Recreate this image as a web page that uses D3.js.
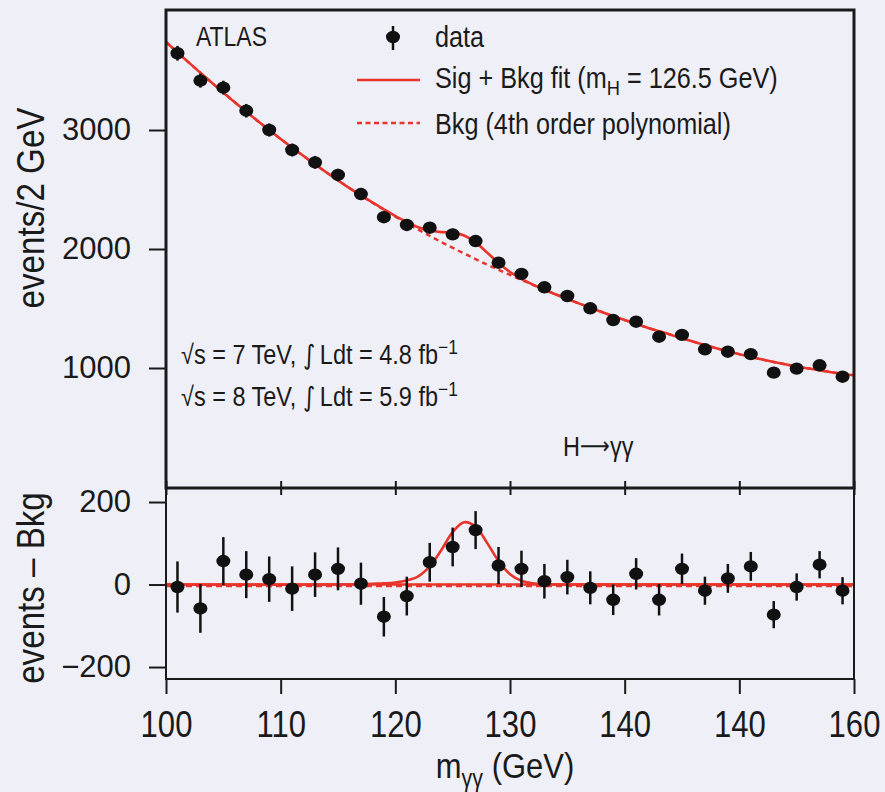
<!DOCTYPE html>
<html><head><meta charset="utf-8">
<script src="https://cdn.jsdelivr.net/npm/d3@7"></script>
<style>
body{margin:0;background:#eff0f7;}
svg{display:block;}
text{font-family:"Liberation Sans",Arial,sans-serif;}
</style></head><body>
<svg id="c" width="885" height="792"></svg>
<script>
// ---- data ----
const massBins = [101,103,105,107,109,111,113,115,117,119,121,123,125,127,129,131,133,135,137,139,141,143,145,147,149,151,153,155,157,159];
const events = [3645,3415,3356,3162,3000,2832,2728,2622,2462,2267,2202,2179,2123,2067,1885,1790,1678,1605,1502,1403,1389,1263,1278,1157,1137,1117,961,995,1023,927];
const residuals = [-6,-58,57,24,13,-10,24,38,2,-78,-28,54,91,132,46,38,8,18,-8,-37,26,-37,38,-15,15,44,-73,-6,48,-15];
const errors = [62,59,58,57,55,54,54,52,51,48,47,47,47,46,45,44,42,42,40,37,38,38,37,34,35,35,33,33,33,33];
const bkgX = [100,102,104,106,108,110,112,114,116,118,120,122,124,126,128,130,132,134,136,138,140,142,144,146,148,150,152,154,156,158,160];
const bkgY = [3740,3566,3397,3233,3076,2925,2781,2643,2512,2389,2272,2163,2059,1962,1869,1782,1698,1618,1543,1471,1403,1339,1280,1221,1166,1116,1071,1031,997,965,939];
const sigX = [100,116,118,119,120,121,122,123,124,125,126,127,128,129,130,131,132,133,134,136,160];
const sigY = [0,0,2,3,5,10,20,44,83,127,151,140,101,57,25,9,3,1,0,0,0];
const xTicks = [100,110,120,130,140,150,160];
const xTickLabels = ["100","110","120","130","140","140","160"];
const yTopTicks = [1000,2000,3000];
const yBotTicks = [-200,0,200];

const red = "#e8342b", ink = "#1a1a1a";
const svg = d3.select("#c");
const L = 166, R = 854, T1 = 10, B1 = 488, B2 = 679;
const x = d3.scaleLinear().domain([100,160]).range([L,R]);
const yT = d3.scaleLinear().domain([0,4000]).range([487,11]);
const yB = d3.scaleLinear().domain([-229,234]).range([B2,B1]);

// condensed text helper (horizontal squeeze of Liberation Sans)
function ctext(parent, px, py, size, sx, rot) {
  return parent.append("text")
    .attr("transform", `translate(${px},${py})${rot?` rotate(${rot})`:""} scale(${sx},1)`)
    .attr("font-size", size).attr("fill", ink);
}

const bkgAt = v => { const i = d3.bisectLeft(bkgX, v); if (bkgX[i] === v) return bkgY[i]; const t=(v-bkgX[i-1])/(bkgX[i]-bkgX[i-1]); return bkgY[i-1]+t*(bkgY[i]-bkgY[i-1]); };
const sigAt = v => { const i = d3.bisectLeft(sigX, v); if (sigX[i] === v) return sigY[i]; if (i<=0||i>=sigX.length) return 0; const t=(v-sigX[i-1])/(sigX[i]-sigX[i-1]); return sigY[i-1]+t*(sigY[i]-sigY[i-1]); };
const fitX = Array.from(new Set([...bkgX, ...sigX])).sort((a,b)=>a-b);
const fitPts = fitX.map(v => [v, bkgAt(v) + sigAt(v)]);

svg.append("clipPath").attr("id","cpT").append("rect").attr("x",L).attr("y",T1).attr("width",R-L).attr("height",B1-T1);
svg.append("clipPath").attr("id","cpB").append("rect").attr("x",L).attr("y",B1).attr("width",R-L).attr("height",B2-B1);

// ---- top panel ----
const gT = svg.append("g");
const lineT = d3.line().x(d=>x(d[0])).y(d=>yT(d[1])).curve(d3.curveCatmullRom);
gT.append("path").attr("clip-path","url(#cpT)").attr("d", lineT(bkgX.map((v,i)=>[v,bkgY[i]])))
  .attr("fill","none").attr("stroke",red).attr("stroke-width",2.4).attr("stroke-dasharray","5,4");
gT.append("path").attr("clip-path","url(#cpT)").attr("d", lineT(fitPts))
  .attr("fill","none").attr("stroke",red).attr("stroke-width",2.6);
const ptsT = gT.selectAll("g.pt").data(massBins).join("g");
ptsT.append("line").attr("x1",d=>x(d)).attr("x2",d=>x(d))
  .attr("y1",(d,i)=>yT(events[i]-errors[i])).attr("y2",(d,i)=>yT(events[i]+errors[i]))
  .attr("stroke","#111").attr("stroke-width",2.5);
ptsT.append("ellipse").attr("cx",d=>x(d)).attr("cy",(d,i)=>yT(events[i])).attr("rx",7).attr("ry",6.2).attr("fill","#111");

// ---- bottom panel ----
const gB = svg.append("g");
gB.append("line").attr("x1",L).attr("x2",R).attr("y1",yB(0)).attr("y2",yB(0))
  .attr("stroke",red).attr("stroke-width",2.5);
gB.append("line").attr("x1",L).attr("x2",R).attr("y1",yB(0)+1).attr("y2",yB(0)+1)
  .attr("stroke",red).attr("stroke-width",3.5).attr("stroke-dasharray","6,4");
const lineB = d3.line().x(d=>x(d[0])).y(d=>yB(d[1])).curve(d3.curveCatmullRom);
gB.append("path").attr("clip-path","url(#cpB)").attr("d", lineB(sigX.map((v,i)=>[v,sigY[i]])))
  .attr("fill","none").attr("stroke",red).attr("stroke-width",2.6);
const ptsB = gB.selectAll("g.pt").data(massBins).join("g");
ptsB.append("line").attr("x1",d=>x(d)).attr("x2",d=>x(d))
  .attr("y1",(d,i)=>yB(residuals[i]-errors[i])).attr("y2",(d,i)=>yB(residuals[i]+errors[i]))
  .attr("stroke","#111").attr("stroke-width",2.5);
ptsB.append("ellipse").attr("cx",d=>x(d)).attr("cy",(d,i)=>yB(residuals[i])).attr("rx",7).attr("ry",6.2).attr("fill","#111");

// ---- frames ----
svg.append("rect").attr("x",L).attr("y",T1).attr("width",R-L).attr("height",B1-T1)
  .attr("fill","none").attr("stroke",ink).attr("stroke-width",3);
svg.append("rect").attr("x",L).attr("y",B1).attr("width",R-L).attr("height",B2-B1)
  .attr("fill","none").attr("stroke",ink).attr("stroke-width",2);

// ---- axes ----
const axB = svg.append("g").attr("transform",`translate(0,${B2})`)
  .call(d3.axisBottom(x).tickValues(xTicks).tickSize(15).tickFormat((d,i)=>xTickLabels[i]));
axB.select(".domain").remove();
axB.selectAll("line").attr("stroke",ink).attr("stroke-width",2);
axB.selectAll("text").attr("font-size",37).attr("fill",ink).attr("y",0).attr("dy",0)
  .attr("transform","translate(0,58) scale(0.84,1)");
const axMid = svg.append("g").attr("transform",`translate(0,${B1+7})`)
  .call(d3.axisTop(x).tickValues(xTicks).tickSize(14).tickFormat(""));
axMid.select(".domain").remove();
axMid.selectAll("line").attr("stroke",ink).attr("stroke-width",2);

const axL = svg.append("g").attr("transform",`translate(${L},0)`)
  .call(d3.axisLeft(yT).tickValues(yTopTicks).tickSize(17).tickFormat(d3.format("d")));
axL.select(".domain").remove();
axL.selectAll("line").attr("stroke",ink).attr("stroke-width",2);
axL.selectAll("text").attr("font-size",31).attr("fill",ink).attr("x",-35);
const axL2 = svg.append("g").attr("transform",`translate(${L},0)`)
  .call(d3.axisLeft(yB).tickValues(yBotTicks).tickSize(17).tickFormat(d=>d<0?"\u2212"+Math.abs(d):d));
axL2.select(".domain").remove();
axL2.selectAll("line").attr("stroke",ink).attr("stroke-width",2);
axL2.selectAll("text").attr("font-size",31).attr("fill",ink).attr("x",-35);

// ---- axis titles ----
ctext(svg, 44, 208, 39, 0.85, -90).attr("text-anchor","middle").text("events/2 GeV");
ctext(svg, 44, 588, 39, 0.85, -90).attr("text-anchor","middle").text("events \u2013 Bkg");
const xt = ctext(svg, 505, 778, 36, 0.86).attr("text-anchor","middle");
xt.append("tspan").text("m");
xt.append("tspan").attr("font-size",25).attr("dy",9).text("\u03b3\u03b3");
xt.append("tspan").attr("dy",-9).text(" (GeV)");

// ---- annotations ----
ctext(svg, 196, 46, 27, 0.85).text("ATLAS");
const lg = svg.append("g");
lg.append("line").attr("x1",393).attr("x2",393).attr("y1",26).attr("y2",50).attr("stroke","#111").attr("stroke-width",2.5);
lg.append("ellipse").attr("cx",393).attr("cy",37).attr("rx",7).attr("ry",6.2).attr("fill","#111");
ctext(lg, 435, 47, 29, 0.87).text("data");
lg.append("line").attr("x1",357).attr("x2",420).attr("y1",80).attr("y2",80).attr("stroke",red).attr("stroke-width",2.6);
const l2 = ctext(lg, 435, 88, 29, 0.87);
l2.append("tspan").text("Sig + Bkg fit (m");
l2.append("tspan").attr("font-size",21).attr("dy",7).text("H");
l2.append("tspan").attr("dy",-7).text(" = 126.5 GeV)");
lg.append("line").attr("x1",357).attr("x2",420).attr("y1",123).attr("y2",123).attr("stroke",red).attr("stroke-width",2.4).attr("stroke-dasharray","5,3.5");
ctext(lg, 435, 134, 29, 0.87).text("Bkg (4th order polynomial)");

function lumiLine(py, txt1, txt2) {
  const t = ctext(svg, 181, py, 27, 0.87);
  t.append("tspan").text(txt1);
  t.append("tspan").attr("font-family","DejaVu Sans").attr("font-size",27).text("\u222B");
  t.append("tspan").text(txt2);
  t.append("tspan").attr("font-size",20).attr("dy",-10).text("\u22121");
}
lumiLine(364, "\u221As = 7 TeV, ", "\u2009Ldt = 4.8 fb");
lumiLine(406, "\u221As = 8 TeV, ", "\u2009Ldt = 5.9 fb");
const hg = ctext(svg, 563, 456, 27, 0.87);
hg.append("tspan").text("H");
hg.append("tspan").attr("font-family","DejaVu Sans").attr("font-size",24).attr("dy",-2).text("\u27F6");
hg.append("tspan").attr("dy",2).text("\u03b3\u03b3");
</script></body></html>
